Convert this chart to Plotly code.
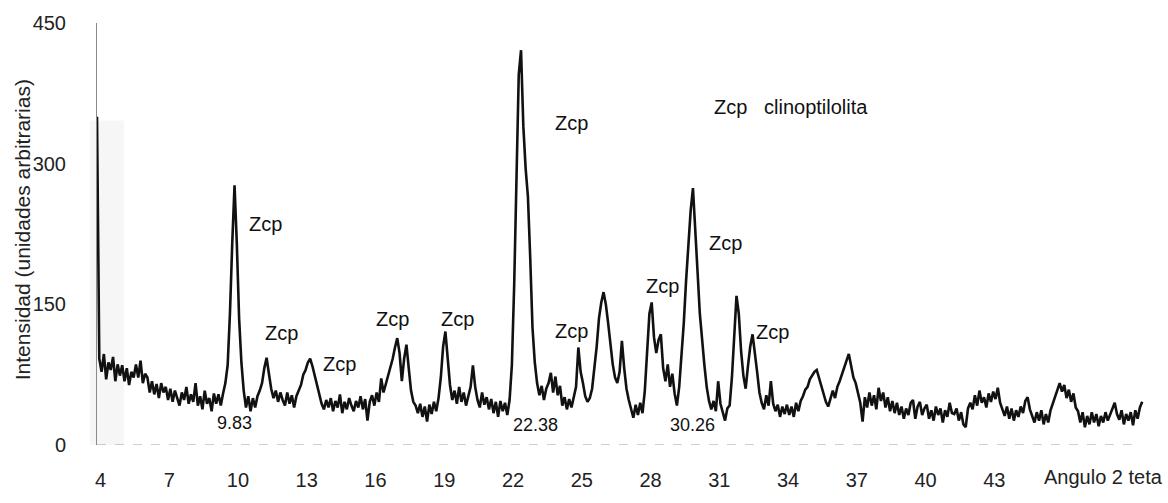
import plotly.graph_objects as go

# 2-theta sampling grid (degrees), step 0.1 starting at 3.85
two_theta = [round(3.85 + 0.1 * i, 2) for i in range(457)]

# Intensity values (arbitrary units)
intensity = (
    [350, 92]
    + [78, 97, 70, 88, 80, 94, 68, 86, 74, 85]          # 4
    + [68, 82, 64, 78, 72, 86, 72, 90, 66, 76]          # 5
    + [72, 56, 68, 54, 65, 50, 66, 56, 62, 48]          # 6
    + [60, 46, 58, 50, 42, 56, 48, 62, 44, 54]          # 7
    + [46, 66, 42, 52, 38, 58, 44, 50, 36, 55]          # 8
    + [44, 54, 42, 55, 66, 85, 140, 215, 277, 215]      # 9
    + [135, 88, 58, 40, 52, 36, 50, 40, 52, 58]         # 10
    + [66, 82, 93, 76, 60, 50, 58, 46, 56, 48]          # 11
    + [42, 56, 44, 53, 40, 52, 58, 64, 75, 80]          # 12
    + [88, 92, 84, 74, 62, 55, 44, 38, 48, 40]          # 13
    + [50, 36, 47, 40, 54, 34, 46, 38, 50, 42]          # 14
    + [36, 47, 40, 52, 38, 49, 26, 46, 53, 42]          # 15
    + [56, 46, 71, 56, 65, 72, 80, 92, 104, 114]        # 16
    + [98, 68, 92, 107, 82, 58, 46, 42, 34, 44]         # 17
    + [30, 41, 25, 43, 33, 46, 36, 50, 72, 105]         # 18
    + [121, 92, 64, 48, 58, 44, 62, 46, 56, 42]         # 19
    + [52, 62, 85, 62, 48, 40, 56, 43, 51, 38]          # 20
    + [49, 34, 46, 30, 47, 36, 45, 32, 48, 85]          # 21
    + [170, 290, 395, 421, 340, 295, 265, 200, 125, 88] # 22
    + [66, 53, 63, 48, 60, 66, 77, 56, 73, 53]          # 23
    + [63, 42, 51, 38, 49, 40, 52, 62, 104, 78]         # 24
    + [66, 52, 46, 50, 60, 80, 105, 135, 152, 163]      # 25
    + [150, 130, 105, 86, 72, 66, 78, 111, 82, 60]      # 26
    + [48, 38, 29, 43, 32, 45, 34, 58, 105, 140]        # 27
    + [152, 115, 98, 112, 118, 82, 68, 86, 62, 76]      # 28
    + [55, 42, 62, 92, 130, 175, 218, 250, 274, 235]    # 29
    + [185, 140, 110, 85, 62, 47, 38, 47, 36, 68]       # 30
    + [44, 34, 26, 39, 42, 72, 122, 159, 140, 100]      # 31
    + [74, 60, 84, 105, 118, 100, 78, 56, 45, 38]       # 32
    + [53, 42, 68, 44, 36, 43, 30, 41, 33, 43]          # 33
    + [32, 41, 30, 45, 36, 47, 52, 59, 62, 70]          # 34
    + [74, 78, 80, 72, 64, 55, 46, 41, 50, 58]          # 35
    + [50, 62, 68, 76, 84, 90, 97, 84, 72, 66]          # 36
    + [56, 45, 25, 51, 40, 56, 42, 53, 38, 61]          # 37
    + [47, 56, 40, 51, 36, 47, 34, 45, 32, 41]          # 38
    + [28, 39, 32, 45, 48, 28, 41, 46, 32, 39]          # 39
    + [43, 28, 37, 26, 41, 32, 39, 24, 37, 30]          # 40
    + [45, 34, 33, 39, 26, 35, 22, 19, 39, 45]          # 41
    + [38, 53, 42, 58, 45, 51, 40, 55, 46, 57]          # 42
    + [49, 61, 45, 37, 31, 41, 28, 39, 26, 37]          # 43
    + [30, 41, 34, 47, 51, 38, 31, 24, 35, 26]          # 44
    + [37, 22, 33, 24, 37, 44, 52, 60, 66, 57]          # 45
    + [64, 50, 59, 46, 55, 40, 36, 24, 35, 19]          # 46
    + [31, 22, 35, 24, 33, 20, 31, 24, 35, 26]          # 47
    + [33, 40, 45, 33, 27, 37, 22, 33, 26, 35]          # 48
    + [21, 37, 28, 40, 46]                              # 49
)

x_ticks = [4, 7, 10, 13, 16, 19, 22, 25, 28, 31, 34, 37, 40, 43]
y_ticks = [0, 150, 300, 450]

peak_labels = ["Zcp"] * 10
peak_label_x = [11.22, 11.92, 14.45, 16.76, 19.56, 24.57, 24.57, 28.54, 31.25, 33.34]
peak_label_y = [236, 119, 86, 134, 134, 343, 122, 170, 215, 121]

angle_labels = ["9.83", "22.38", "30.26"]
angle_label_x = [9.87, 22.96, 29.85]
angle_label_y = [23, 21, 21]

FONT = "Liberation Sans, Arial, sans-serif"

fig = go.Figure()
fig.add_trace(go.Scatter(
    x=two_theta, y=intensity, mode="lines",
    line=dict(color="#111111", width=2.6),
    showlegend=False, hoverinfo="skip",
))

annotations = []
for t, ax_, ay_ in zip(peak_labels, peak_label_x, peak_label_y):
    annotations.append(dict(x=ax_, y=ay_, text=t, showarrow=False,
                            xanchor="center", yanchor="middle",
                            font=dict(family=FONT, size=20, color="#111")))
for t, ax_, ay_ in zip(angle_labels, angle_label_x, angle_label_y):
    annotations.append(dict(x=ax_, y=ay_, text=t, showarrow=False,
                            xanchor="center", yanchor="middle",
                            font=dict(family=FONT, size=18, color="#111")))
annotations.append(dict(x=30.68, y=360, text="Zcp&nbsp;&nbsp;&nbsp;clinoptilolita",
                        xanchor="left", yanchor="middle", showarrow=False,
                        font=dict(family=FONT, size=20, color="#111")))
annotations.append(dict(xref="paper", yref="paper", x=-0.0712, y=0.509,
                        xanchor="center", yanchor="middle",
                        text="Intensidad (unidades arbitrarias)", textangle=-90,
                        showarrow=False, font=dict(family=FONT, size=21, color="#222")))
annotations.append(dict(xref="paper", yref="paper", x=0.956, y=-0.076,
                        xanchor="center", yanchor="middle",
                        text="Angulo 2 teta", showarrow=False,
                        font=dict(family=FONT, size=20, color="#222")))

shapes = [
    dict(type="rect", xref="paper", yref="y", x0=-0.0066, x1=0.0256, y0=0, y1=346,
         fillcolor="rgba(0,0,0,0.035)", line=dict(width=0), layer="below"),
    dict(type="line", xref="x", yref="y", x0=3.85, x1=49.0, y0=0, y1=0,
         line=dict(color="#a0a0a0", width=1.2, dash="dash"), layer="below"),
]

fig.update_layout(
    width=1168, height=503,
    margin=dict(l=97, r=18, t=23, b=46),
    paper_bgcolor="white", plot_bgcolor="white",
    font=dict(family=FONT, size=20, color="#222"),
    annotations=annotations, shapes=shapes,
    xaxis=dict(range=[3.85, 49.79], tickvals=x_ticks, ticktext=[str(v) for v in x_ticks],
               showgrid=False, zeroline=False, showline=False, ticks="",
               ticklabelstandoff=21, tickfont=dict(size=20)),
    yaxis=dict(range=[0, 450], tickvals=y_ticks, ticktext=[str(v) for v in y_ticks],
               showgrid=False, zeroline=False, showline=True, linecolor="#8a8a8a",
               linewidth=1, ticks="", ticklabelstandoff=26, tickfont=dict(size=20)),
)

fig.write_html("out.html")
